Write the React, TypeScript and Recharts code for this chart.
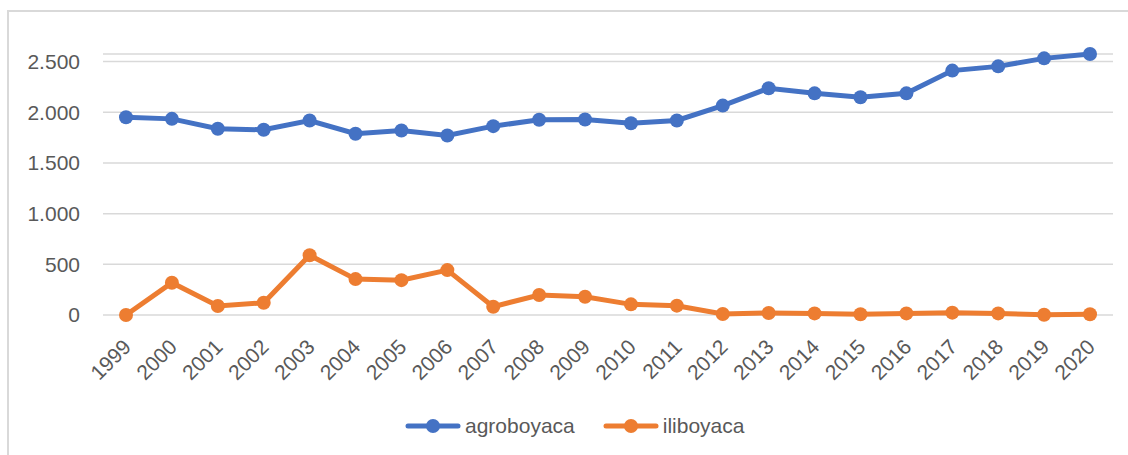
import React from 'react';
import {
  LineChart,
  Line,
  XAxis,
  YAxis,
  CartesianGrid,
  Legend,
} from 'recharts';

// ============================================================================
// Data
// ============================================================================

const YEARS = [
  '1999', '2000', '2001', '2002', '2003', '2004', '2005', '2006', '2007', '2008', '2009',
  '2010', '2011', '2012', '2013', '2014', '2015', '2016', '2017', '2018', '2019', '2020',
];

const AGROBOYACA = [
  1951, 1935, 1837, 1827, 1919, 1788, 1820, 1771, 1863, 1926, 1929,
  1892, 1919, 2066, 2237, 2187, 2148, 2187, 2411, 2453, 2532, 2575,
];

const ILIBOYACA = [
  0, 318, 89, 121, 590, 354, 344, 443, 82, 197, 180,
  105, 92, 10, 20, 16, 7, 16, 23, 16, 3, 7,
];

const Y_TICKS = [0, 500, 1000, 1500, 2000, 2500];

const SERIES = [
  { key: 'agroboyaca', color: '#4472C4' },
  { key: 'iliboyaca', color: '#ED7D31' },
];

// ============================================================================
// Constants
// ============================================================================

const WIDTH = 1128;
const HEIGHT = 455;
const FONT = '"Liberation Sans", Arial, sans-serif';
const TEXT_COLOR = '#595959';
const GRID_COLOR = '#D9D9D9';

const chartData = YEARS.map((year, i) => ({
  year,
  agroboyaca: AGROBOYACA[i],
  iliboyaca: ILIBOYACA[i],
}));

const formatThousands = (value: number): string =>
  value.toString().replace(/\B(?=(\d{3})+(?!\d))/g, '.');

// ============================================================================
// Components
// ============================================================================

const YearTick = (props: any) => {
  const { x, y, payload } = props;
  return (
    <g transform={`translate(${x + 1},${y + 20})`}>
      <text
        x={0}
        y={0}
        textAnchor="end"
        dominantBaseline="central"
        transform="rotate(-45)"
        fill={TEXT_COLOR}
        fontSize={21}
        fontFamily={FONT}
      >
        {payload.value}
      </text>
    </g>
  );
};

const LegendContent = () => (
  <div style={{ display: 'flex', alignItems: 'center', fontFamily: FONT }}>
    {SERIES.map((s, i) => (
      <div
        key={s.key}
        style={{ display: 'flex', alignItems: 'center', marginLeft: i === 0 ? 0 : 28 }}
      >
        <svg width={56} height={18}>
          <line x1={3} y1={9} x2={53} y2={9} stroke={s.color} strokeWidth={5} strokeLinecap="round" />
          <circle cx={28} cy={9} r={7} fill={s.color} />
        </svg>
        <span style={{ fontSize: 21, color: TEXT_COLOR, marginLeft: 4 }}>{s.key}</span>
      </div>
    ))}
  </div>
);

export default function App() {
  return (
    <div
      style={{
        position: 'absolute',
        left: 0,
        top: 0,
        width: WIDTH,
        height: HEIGHT,
        background: '#fff',
        overflow: 'hidden',
      }}
    >
      <div
        style={{
          position: 'absolute',
          left: 7,
          top: 10,
          width: WIDTH,
          height: HEIGHT,
          borderLeft: `2px solid ${GRID_COLOR}`,
          borderTop: `2px solid ${GRID_COLOR}`,
        }}
      />
      <LineChart
        width={WIDTH}
        height={HEIGHT}
        data={chartData}
        margin={{ top: 54, right: 15, left: 23, bottom: 0 }}
        style={{ position: 'absolute', left: 0, top: 0 }}
      >
        <CartesianGrid vertical={false} stroke={GRID_COLOR} strokeWidth={1.5} />
        <XAxis
          dataKey="year"
          interval={0}
          axisLine={false}
          tickLine={false}
          padding={{ left: 23, right: 23 }}
          height={95}
          tick={<YearTick />}
        />
        <YAxis
          domain={[0, 2500]}
          ticks={Y_TICKS}
          width={80}
          axisLine={false}
          tickLine={false}
          tickSize={0}
          tickMargin={23}
          tickFormatter={formatThousands}
          tick={{ fontSize: 21, fill: TEXT_COLOR, fontFamily: FONT }}
        />
        <Legend
          verticalAlign="bottom"
          height={45}
          content={<LegendContent />}
          wrapperStyle={{ left: 405, width: 'auto', bottom: -4 }}
        />
        {SERIES.map((s) => (
          <Line
            key={s.key}
            dataKey={s.key}
            name={s.key}
            stroke={s.color}
            strokeWidth={5}
            dot={{ r: 7, fill: s.color, stroke: 'none' }}
            activeDot={false}
            isAnimationActive={false}
          />
        ))}
      </LineChart>
    </div>
  );
}
